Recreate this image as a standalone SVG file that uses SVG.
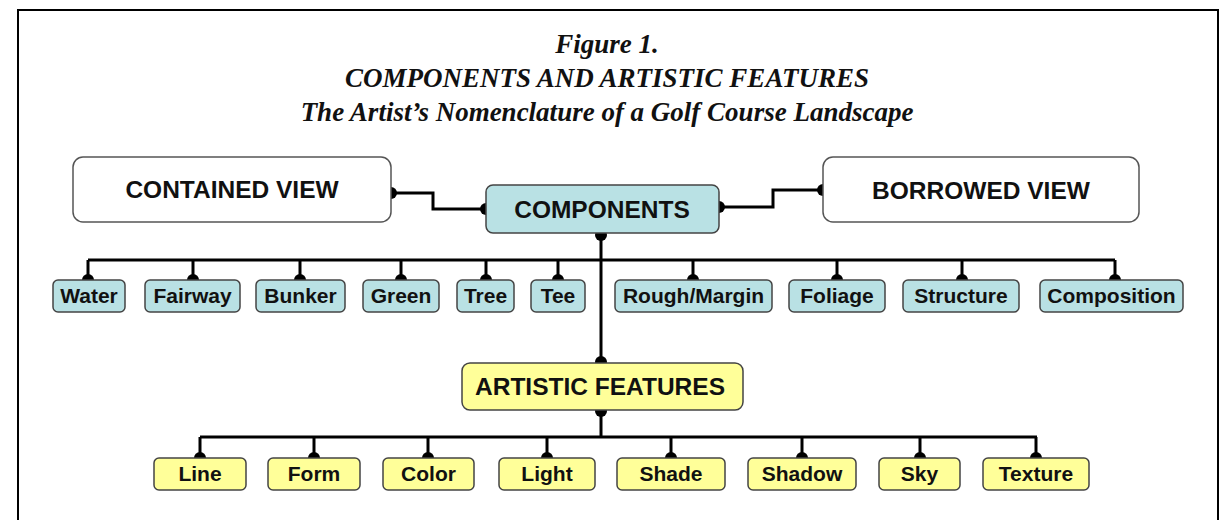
<svg xmlns="http://www.w3.org/2000/svg" width="1229" height="520" viewBox="0 0 1229 520">
<defs>
<style>
.title{font-family:"Liberation Serif","Times New Roman",serif;font-weight:bold;font-style:italic;font-size:27px;fill:#111;text-anchor:middle}
.big{font-family:"Liberation Sans",Arial,sans-serif;font-weight:bold;font-size:24.5px;fill:#111;text-anchor:middle}
.sm{font-family:"Liberation Sans",Arial,sans-serif;font-weight:bold;font-size:21px;fill:#111;text-anchor:middle}
.white{fill:#ffffff;stroke:#555;stroke-width:1.5}
.blue{fill:#b9e1e4;stroke:#444;stroke-width:1.5}
.yellow{fill:#ffff99;stroke:#444;stroke-width:1.5}
.conn{fill:none;stroke:#000;stroke-width:3}
</style>
<marker id="dot" viewBox="-7 -7 14 14" markerWidth="14" markerHeight="14" markerUnits="userSpaceOnUse" refX="0" refY="0" orient="auto">
<circle cx="0" cy="0" r="6" fill="#000"/>
</marker>
</defs>
<rect x="0" y="0" width="1229" height="520" fill="#fff"/>
<rect x="18" y="10" width="1200" height="530" fill="none" stroke="#000" stroke-width="2"/>
<g id="title">
<text class="title" x="607" y="53">Figure 1.</text>
<text class="title" x="607" y="87">COMPONENTS AND ARTISTIC FEATURES</text>
<text class="title" x="607" y="121">The Artist’s Nomenclature of a Golf Course Landscape</text>
</g>
<g id="connectors">
<path class="conn" d="M391,193 H433 V209 H486" marker-start="url(#dot)" marker-end="url(#dot)"/>
<path class="conn" d="M719,207 H773 V190 H823" marker-start="url(#dot)" marker-end="url(#dot)"/>
<path class="conn" d="M601,235 V362" marker-start="url(#dot)" marker-end="url(#dot)"/>
<path class="conn" d="M88,260 H1115"/>
<path class="conn" d="M88,260 V280" marker-end="url(#dot)"/>
<path class="conn" d="M193,260 V280" marker-end="url(#dot)"/>
<path class="conn" d="M300,260 V280" marker-end="url(#dot)"/>
<path class="conn" d="M401,260 V280" marker-end="url(#dot)"/>
<path class="conn" d="M486,260 V280" marker-end="url(#dot)"/>
<path class="conn" d="M558,260 V280" marker-end="url(#dot)"/>
<path class="conn" d="M693,260 V280" marker-end="url(#dot)"/>
<path class="conn" d="M837,260 V280" marker-end="url(#dot)"/>
<path class="conn" d="M962,260 V280" marker-end="url(#dot)"/>
<path class="conn" d="M1115,260 V280" marker-end="url(#dot)"/>
<path class="conn" d="M601,411 V437" marker-start="url(#dot)"/>
<path class="conn" d="M200,437 H1037"/>
<path class="conn" d="M200,437 V458" marker-end="url(#dot)"/>
<path class="conn" d="M314,437 V458" marker-end="url(#dot)"/>
<path class="conn" d="M428,437 V458" marker-end="url(#dot)"/>
<path class="conn" d="M547,437 V458" marker-end="url(#dot)"/>
<path class="conn" d="M671,437 V458" marker-end="url(#dot)"/>
<path class="conn" d="M802,437 V458" marker-end="url(#dot)"/>
<path class="conn" d="M920,437 V458" marker-end="url(#dot)"/>
<path class="conn" d="M1036,437 V458" marker-end="url(#dot)"/>
</g>
<g id="contained-view"><rect class="white" x="73" y="157" width="318" height="65" rx="10"/><text class="big" x="232" y="198">CONTAINED VIEW</text></g>
<g id="components"><rect class="blue" x="486" y="185" width="233" height="48" rx="7"/><text class="big" x="602" y="218">COMPONENTS</text></g>
<g id="borrowed-view"><rect class="white" x="823" y="157" width="316" height="65" rx="10"/><text class="big" x="981" y="199">BORROWED VIEW</text></g>
<g id="water"><rect class="blue" x="53" y="280" width="72" height="32" rx="5"/><text class="sm" x="89" y="303">Water</text></g>
<g id="fairway"><rect class="blue" x="145" y="280" width="95" height="32" rx="5"/><text class="sm" x="192.5" y="303">Fairway</text></g>
<g id="bunker"><rect class="blue" x="256" y="280" width="89" height="32" rx="5"/><text class="sm" x="300.5" y="303">Bunker</text></g>
<g id="green"><rect class="blue" x="363" y="280" width="76" height="32" rx="5"/><text class="sm" x="401" y="303">Green</text></g>
<g id="tree"><rect class="blue" x="457" y="280" width="57" height="32" rx="5"/><text class="sm" x="485.5" y="303">Tree</text></g>
<g id="tee"><rect class="blue" x="531" y="280" width="54" height="32" rx="5"/><text class="sm" x="558" y="303">Tee</text></g>
<g id="rough-margin"><rect class="blue" x="615" y="280" width="157" height="32" rx="5"/><text class="sm" x="693.5" y="303">Rough/Margin</text></g>
<g id="foliage"><rect class="blue" x="789" y="280" width="96" height="32" rx="5"/><text class="sm" x="837" y="303">Foliage</text></g>
<g id="structure"><rect class="blue" x="903" y="280" width="116" height="32" rx="5"/><text class="sm" x="961" y="303">Structure</text></g>
<g id="composition"><rect class="blue" x="1040" y="280" width="143" height="32" rx="5"/><text class="sm" x="1111.5" y="303">Composition</text></g>
<g id="artistic-features"><rect class="yellow" x="462" y="363" width="281" height="47" rx="8"/><text class="big" x="600" y="395">ARTISTIC FEATURES</text></g>
<g id="line"><rect class="yellow" x="154" y="458" width="92" height="32" rx="5"/><text class="sm" x="200" y="481">Line</text></g>
<g id="form"><rect class="yellow" x="268" y="458" width="92" height="32" rx="5"/><text class="sm" x="314" y="481">Form</text></g>
<g id="color"><rect class="yellow" x="383" y="458" width="91" height="32" rx="5"/><text class="sm" x="428.5" y="481">Color</text></g>
<g id="light"><rect class="yellow" x="499" y="458" width="96" height="32" rx="5"/><text class="sm" x="547" y="481">Light</text></g>
<g id="shade"><rect class="yellow" x="617" y="458" width="108" height="32" rx="5"/><text class="sm" x="671" y="481">Shade</text></g>
<g id="shadow"><rect class="yellow" x="748" y="458" width="108" height="32" rx="5"/><text class="sm" x="802" y="481">Shadow</text></g>
<g id="sky"><rect class="yellow" x="879" y="458" width="81" height="32" rx="5"/><text class="sm" x="919.5" y="481">Sky</text></g>
<g id="texture"><rect class="yellow" x="983" y="458" width="106" height="32" rx="5"/><text class="sm" x="1036" y="481">Texture</text></g>
</svg>
